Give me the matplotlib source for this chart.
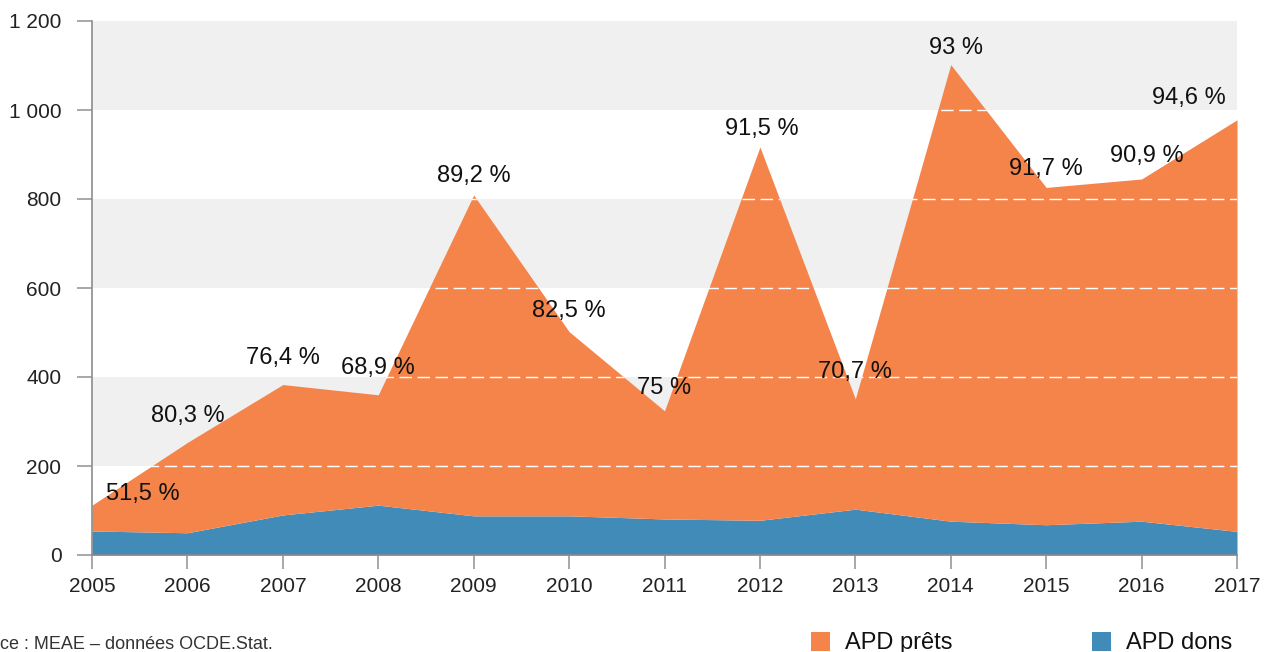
import matplotlib
matplotlib.use("Agg")
import matplotlib.pyplot as plt
from matplotlib.patches import Rectangle
from matplotlib.ticker import FuncFormatter

plt.rcParams['font.family'] = ['Liberation Sans', 'DejaVu Sans']

years = [2005, 2006, 2007, 2008, 2009, 2010, 2011, 2012, 2013, 2014, 2015, 2016, 2017]
apd_dons = [54, 50, 90, 112, 88, 88, 81, 78, 103, 76, 68, 76, 53]
apd_prets = [58, 203, 293, 248, 721, 414, 243, 839, 248, 1026, 758, 769, 925]
pct_labels = ["51,5 %", "80,3 %", "76,4 %", "68,9 %", "89,2 %", "82,5 %", "75 %",
              "91,5 %", "70,7 %", "93 %", "91,7 %", "90,9 %", "94,6 %"]
label_x = [2005.53, 2006.0, 2007.0, 2008.0, 2009.0, 2010.0, 2011.0,
           2012.02, 2013.0, 2014.05, 2015.0, 2016.05, 2016.5]
label_y = [138, 313, 443, 421, 852, 549, 376, 958, 412, 1140, 868, 897, 1027]
yticks = [0, 200, 400, 600, 800, 1000, 1200]
legend_labels = ["APD prêts", "APD dons"]

orange = '#F4844A'
blue = '#418BB8'

W, H = 1266, 652
fig = plt.figure(figsize=(W / 100, H / 100), dpi=100)
ax = fig.add_axes([92 / W, 1 - 555 / H, (1237 - 92) / W, (555 - 21) / H])

# background bands
for lo in (200, 600, 1000):
    ax.axhspan(lo, lo + 200, color='#F0F0F0', zorder=0, lw=0)

totals = [d + p for d, p in zip(apd_dons, apd_prets)]
ax.fill_between(years, 0, apd_dons, color=blue, lw=0, zorder=2)
poly = ax.fill_between(years, apd_dons, totals, color=orange, lw=0, zorder=2)

clip_path = poly.get_paths()[0]
for yv in yticks[1:-1]:
    ln = ax.axhline(yv, color='white', lw=1, dashes=(9, 4), zorder=3)
    ln.set_clip_path(clip_path, ax.transData)

for x, y, t in zip(label_x, label_y, pct_labels):
    ax.text(x, y, t, ha='center', va='center', fontsize=17, color='#111111', zorder=4)

ax.set_xlim(2005, 2017)
ax.set_ylim(0, 1200)
ax.set_xticks(years)
ax.set_yticks(yticks)
ax.yaxis.set_major_formatter(FuncFormatter(lambda v, p: f"{int(v):,}".replace(",", " ")))

for s in ('top', 'right'):
    ax.spines[s].set_visible(False)
for s in ('left', 'bottom'):
    ax.spines[s].set_color('#8C8C8C')
    ax.spines[s].set_linewidth(1.2)
    ax.spines[s].set_zorder(5)

ax.tick_params(axis='y', length=11, width=1.2, color='#9A9A9A', pad=11, labelsize=15, labelcolor='#222222')
ax.tick_params(axis='x', length=10, width=1.2, color='#9A9A9A', pad=6, labelsize=15, labelcolor='#222222')

fig.text(-38 / W, 1 - 649 / H, "Source : MEAE – données OCDE.Stat.", fontsize=13,
         color='#333333', ha='left', va='baseline')

# legend
for (sx, tx), col, lab in zip([(811, 845), (1092, 1126)], [orange, blue], legend_labels):
    fig.patches.append(Rectangle((sx / W, 1 - 651 / H), 19 / W, 19 / H,
                                 transform=fig.transFigure, color=col, lw=0))
    fig.text(tx / W, 1 - 649 / H, lab, fontsize=17, color='#111111',
             ha='left', va='baseline')

fig.savefig('out.png', dpi=100)
